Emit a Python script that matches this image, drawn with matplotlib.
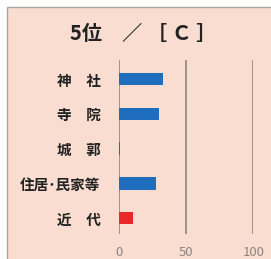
import matplotlib
matplotlib.use('Agg')
import matplotlib.pyplot as plt
from matplotlib.patches import Rectangle

plt.rcParams['font.family'] = ['Noto Sans CJK JP', 'DejaVu Sans']

# data
categories = ["神　社", "寺　院", "城　郭", "住居･民家等", "近　代"]
values = [33, 30, 1, 28, 10.5]
bar_colors = ["#1f6dbd", "#1f6dbd", "#1f6dbd", "#1f6dbd", "#e8282b"]
ticks = [0, 50, 100]
title = "5位　／ ［ Ｃ ］"

W, H = 271, 259
fig = plt.figure(figsize=(W / 100, H / 100), dpi=100)
fig.patch.set_facecolor("white")

# peach panel with thin grey border on left/top
bg = fig.add_axes([0, 0, 1, 1], zorder=-1)
bg.set_xlim(0, W)
bg.set_ylim(H, 0)
bg.axis("off")
bg.add_patch(Rectangle((7, 7), W, H, facecolor="#f9ddd0",
                       edgecolor="#a8a4a2", lw=1.0))

ax = fig.add_axes([118.7 / W, 1 - 234 / H, (253.3 - 118.7) / W, (234 - 60) / H])
ax.set_facecolor("none")

y = range(len(categories))
ax.barh(y, values, height=0.36, color=bar_colors, zorder=3)

ax.set_xlim(0, 100)
ax.set_ylim(4.46, -0.55)

for t in ticks:
    ax.axvline(t, color="#958c88", lw=1.3, zorder=2)

for s in ax.spines.values():
    s.set_visible(False)

ax.set_xticks(ticks)
ax.set_xticklabels([str(t) for t in ticks], color="#8a8482", fontsize=9.5)
ax.tick_params(axis="x", length=0, pad=9)
ax.set_yticks(list(y))
ax.set_yticklabels(categories, fontsize=10.5, fontweight="bold", color="#222222")
ax.tick_params(axis="y", length=0, pad=13)

fig.text(143 / W, 1 - 33 / H, title, ha="center", va="center",
         fontsize=14.5, fontweight="bold", color="#222222")

fig.savefig("out.png", dpi=100)
